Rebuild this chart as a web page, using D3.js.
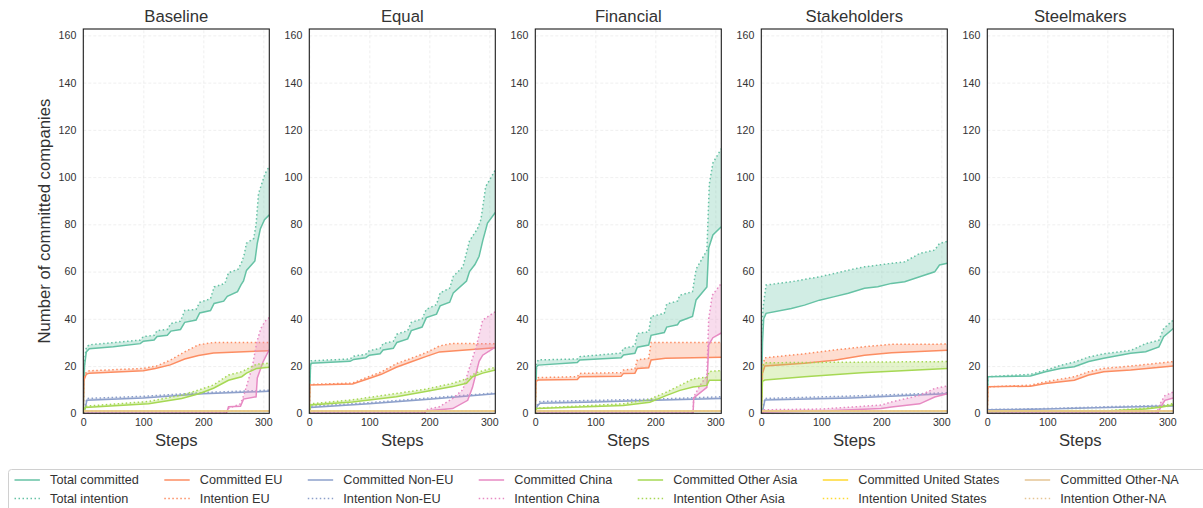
<!DOCTYPE html>
<html>
<head>
<meta charset="utf-8">
<script src="https://cdn.jsdelivr.net/npm/d3@7"></script>
<style>
  body { margin: 0; background: #fff; }
  text { font-family: "Liberation Sans", Arial, sans-serif; }
</style>
</head>
<body>
<svg id="chart" width="1203" height="508"></svg>
<script>
// ---- data ----
const scenarios = ["Baseline", "Equal", "Financial", "Stakeholders", "Steelmakers"];
const groups = ["Total", "EU", "Non-EU", "China", "Other Asia", "United States", "Other-NA"];
const committedLabels = ["Total committed", "Committed EU", "Committed Non-EU", "Committed China",
  "Committed Other Asia", "Committed United States", "Committed Other-NA"];
const intentionLabels = ["Total intention", "Intention EU", "Intention Non-EU", "Intention China",
  "Intention Other Asia", "Intention United States", "Intention Other-NA"];
const colors = ["#66c2a5", "#fc8d62", "#8da0cb", "#e78ac3", "#a6d854", "#ffd92f", "#e5c494"];
const xTicks = [0, 100, 200, 300];
const yTicks = [0, 20, 40, 60, 80, 100, 120, 140, 160];

// [step, companies] for committed / intention, per group
const usFlat = [[0, 1], [310, 1]];
const naFlat = [[0, 1], [310, 1]];

const baseline = [
  [[[0,0],[2,20],[5,26],[10,27.3],[50,28.2],[95,29.5],[100,30.5],[118,31],[123,32.5],[140,33],[146,34.8],[162,35.5],[169,38.5],[188,39.5],[194,42.5],[212,43.5],[218,46.5],[234,47.5],[240,49.5],[257,51.5],[263,54.5],[267,56],[272,60.5],[286,64.5],[290,72],[295,78],[302,82],[310,84]],
   [[0,0],[2,22],[5,28],[10,29],[95,31],[100,32.5],[118,33],[123,35],[140,35.5],[146,38],[162,39],[169,43.5],[188,44],[194,47],[212,48.5],[218,53.5],[236,55],[242,59.5],[258,61],[264,64],[268,67],[272,72],[284,74],[288,80],[292,93],[303,101.5],[310,104.5]]],
  [[[0,0],[1,14],[5,16.5],[10,17],[100,18],[120,19],[145,20.5],[169,23],[192,24.5],[217,25.5],[310,26.5]],
   [[0,0],[1,15],[5,17.5],[10,18],[100,19],[122,20],[145,22.5],[169,26],[192,29],[217,30],[310,30]]],
  [[[0,0],[3,2],[6,5.5],[100,6.5],[200,8.3],[310,9.3]],
   [[0,0],[3,3],[6,6.3],[100,7.2],[200,8.8],[310,9.8]]],
  [[[0,0],[238,0],[240,1],[242,2.8],[262,3],[267,6],[288,7],[290,15],[300,22],[310,27]],
   [[0,0],[238,0],[241,2],[262,4],[268,8],[275,14],[282,20],[289,30],[296,36],[303,39],[310,40.5]]],
  [[[0,0],[3,2.5],[109,4],[164,6.3],[194,8.4],[217,10.6],[242,14],[264,15.5],[272,17],[289,19],[310,19.5]],
   [[0,0],[3,3],[109,5],[164,7.7],[194,10],[217,12],[242,16.2],[264,17.6],[289,20.8],[310,21.2]]],
  [usFlat, usFlat],
  [naFlat, naFlat]
];

const equal = [
  [[[0,0],[2,20],[3,21.2],[68,22],[74,22.8],[94,23.5],[100,24.6],[118,25.2],[123,26.8],[140,27.5],[146,30],[164,31.5],[170,35],[188,36.5],[195,40.5],[212,42],[218,45.5],[234,47],[240,51],[262,56],[267,60],[276,63],[283,66.5],[289,73],[297,80.5],[310,85]],
   [[0,0],[2,21],[3,22.2],[68,23],[74,24.2],[94,25],[100,26.5],[118,27.5],[123,29.5],[140,30.5],[146,33.5],[164,35],[170,38.5],[188,40],[195,44],[212,46],[218,51],[234,53],[240,58],[256,62],[267,73],[280,78],[286,82],[294,96],[310,103]]],
  [[[0,0],[1,12],[72,12.4],[97,14.5],[120,16.5],[145,19.5],[169,21.7],[194,24],[217,26],[310,27.8]],
   [[0,0],[1,12.2],[72,12.8],[97,15.3],[120,17.5],[145,21],[169,23.2],[194,25.6],[217,28.5],[239,29.6],[310,29.4]]],
  [[[0,0],[2,2.5],[100,4],[200,6],[310,8.3]],
   [[0,0],[2,3],[100,4.5],[200,6.5],[310,8.6]]],
  [[[0,0],[192,0],[194,1],[239,2],[264,5.5],[272,11],[283,22],[289,24.6],[310,28]],
   [[0,0],[192,0],[194,1.5],[217,2.8],[239,6.3],[256,10],[264,17],[278,28],[289,39.5],[310,43]]],
  [[[0,0],[2,3.5],[72,4.8],[145,7],[194,9.2],[239,11.3],[262,12.7],[272,15.5],[289,17],[310,18.3]],
   [[0,0],[2,4],[72,5.7],[145,8.4],[194,10.2],[239,12.7],[264,14.8],[278,17.2],[310,19.5]]],
  [usFlat, usFlat],
  [naFlat, naFlat]
];

const financial = [
  [[[0,0],[2,19.7],[5,20.4],[70,21.5],[74,22.6],[143,23.5],[147,24.7],[166,25.4],[170,28],[189,28.9],[193,33],[215,34.2],[219,36.5],[237,37.5],[241,39],[262,41],[268,48],[286,53.5],[289,70],[296,75.5],[310,79]],
   [[0,0],[2,21],[5,22.6],[70,23],[74,24],[143,25.5],[147,27.5],[166,28.5],[170,33.8],[189,34.5],[193,41],[215,42.3],[219,46.3],[237,47.5],[241,50],[262,51.5],[268,61],[286,69],[290,97],[296,106],[310,112]]],
  [[[0,0],[1,13.5],[5,14.1],[70,14.3],[74,15.5],[143,15.7],[147,16.9],[166,17],[170,19],[189,19.3],[193,22.6],[217,23.3],[310,23.7]],
   [[0,0],[1,14],[5,15.1],[70,15.5],[74,16.9],[143,17.2],[147,18.3],[166,18.8],[170,22.6],[189,23.3],[193,30],[310,30]]],
  [[[0,0],[3,3],[8,4.3],[100,4.8],[200,5.5],[310,6.3]],
   [[0,0],[3,3.5],[8,5],[100,5.5],[200,6],[310,7]]],
  [[[0,0],[263,0],[264,6.5],[286,11],[289,29],[296,32],[310,34]],
   [[0,0],[263,0],[264,7],[275,12],[286,16],[289,40],[295,50],[310,55]]],
  [[[0,0],[2,2],[147,3.3],[191,4.7],[219,7.6],[241,9.7],[263,11.1],[286,11.8],[290,14],[310,14]],
   [[0,0],[2,2.2],[147,4],[191,6],[219,9],[241,11.8],[263,14.6],[286,15.3],[290,17.7],[310,18.1]]],
  [usFlat, usFlat],
  [naFlat, naFlat]
];

const stakeholders = [
  [[[0,0],[2,30],[4,40],[8,42.3],[50,44.4],[72,45.8],[97,47.9],[122,49.4],[145,50.8],[172,52.9],[194,53.6],[217,55],[239,55.7],[264,57.8],[289,59.9],[297,62.8],[310,63.5]],
   [[0,0],[1,35],[3,45],[8,54.3],[50,55.7],[97,57.8],[122,59.2],[145,60.6],[172,62],[217,63.5],[239,64.1],[264,67.7],[289,69.1],[297,71.9],[310,72.8]]],
  [[[0,0],[2,17],[6,20],[72,21.2],[122,22.5],[172,24.6],[217,25.6],[310,26.7]],
   [[0,0],[2,20],[6,23.5],[72,25.2],[122,26.8],[172,28.2],[217,29.2],[310,29.3]]],
  [[[0,0],[3,2],[6,5.6],[150,6.5],[310,8.3]],
   [[0,0],[3,2.5],[6,6.3],[150,7.3],[310,8.7]]],
  [[[0,0],[5,0.6],[100,1],[200,2],[217,2.7],[264,4],[289,6.9],[310,8.3]],
   [[0,0],[5,1.5],[100,1.8],[200,3.5],[217,4.8],[264,7.6],[289,10.5],[310,11.6]]],
  [[[0,0],[2,13.5],[6,14.1],[72,15.5],[167,17.2],[310,19]],
   [[0,0],[2,20],[6,21.4],[310,21.9]]],
  [usFlat, usFlat],
  [naFlat, naFlat]
];

const steelmakers = [
  [[[0,0],[1,15.5],[72,15.8],[97,17.6],[122,19],[145,19.7],[169,21.9],[194,23.3],[239,25.4],[264,26.1],[286,28.1],[294,32.4],[310,35.9]],
   [[0,0],[1,15.5],[72,16.5],[97,18.2],[122,20.3],[145,21.7],[169,23.8],[194,25.2],[239,26.6],[264,29.5],[286,30.9],[294,35.9],[310,39.5]]],
  [[[0,0],[1,11.2],[72,11.5],[97,12.6],[145,14],[169,16.2],[194,17.6],[239,18.3],[310,20]],
   [[0,0],[1,11.2],[72,11.9],[97,13.3],[145,15.5],[169,17.6],[194,19],[239,20],[310,21.9]]],
  [[[0,1.5],[97,1.8],[200,2.5],[310,3.1]],
   [[0,1.6],[97,2],[200,2.8],[310,3.5]]],
  [[[0,0],[284,0],[290,3],[296,5.5],[310,6.5]],
   [[0,0],[282,0],[288,4],[296,7.5],[310,9]]],
  [[[0,0.8],[200,1],[264,1.8],[289,2.6],[310,3.5]],
   [[0,1],[200,1.2],[264,2.2],[289,3],[310,4.2]]],
  [usFlat, usFlat],
  [naFlat, naFlat]
];

const panels = [baseline, equal, financial, stakeholders, steelmakers];

// ---- layout ----
const svg = d3.select("#chart");
const ink = "#333";
const plotW = 186, plotTop = 29, plotBottom = 413.3, firstLeft = 83.3, panelStep = 226;

scenarios.forEach((name, i) => {
  const x0 = firstLeft + i * panelStep;
  const x = d3.scaleLinear().domain([0, 310]).range([x0, x0 + plotW]);
  const y = d3.scaleLinear().domain([0, 162.7]).range([plotBottom, plotTop]);
  const g = svg.append("g");

  // faint dashed grid
  g.append("g")
    .attr("transform", `translate(0,${plotBottom})`)
    .call(d3.axisBottom(x).tickValues(xTicks).tickSize(-(plotBottom - plotTop)).tickFormat(""))
    .call(a => a.select(".domain").remove())
    .selectAll("line").attr("stroke", "#ebebeb").attr("stroke-dasharray", "3,2").attr("stroke-width", 0.8);
  g.append("g")
    .attr("transform", `translate(${x0},0)`)
    .call(d3.axisLeft(y).tickValues(yTicks).tickSize(-plotW).tickFormat(""))
    .call(a => a.select(".domain").remove())
    .selectAll("line").attr("stroke", "#ebebeb").attr("stroke-dasharray", "3,2").attr("stroke-width", 0.8);

  // tick labels
  g.append("g")
    .attr("transform", `translate(0,${plotBottom})`)
    .call(d3.axisBottom(x).tickValues(xTicks).tickSize(0).tickPadding(5))
    .call(a => a.select(".domain").remove())
    .selectAll("text").attr("font-size", 10.6).attr("fill", ink)
    .style("font-family", '"Liberation Sans", Arial, sans-serif');
  g.append("g")
    .attr("transform", `translate(${x0},0)`)
    .call(d3.axisLeft(y).tickValues(yTicks).tickSize(0).tickPadding(7))
    .call(a => a.select(".domain").remove())
    .selectAll("text").attr("font-size", 10.6).attr("fill", ink)
    .style("font-family", '"Liberation Sans", Arial, sans-serif');

  // series
  svg.append("clipPath").attr("id", "clip" + i)
    .append("rect").attr("x", x0).attr("y", plotTop).attr("width", plotW).attr("height", plotBottom - plotTop);
  const plot = g.append("g").attr("clip-path", `url(#clip${i})`);
  const line = d3.line().x(d => x(d[0])).y(d => y(d[1]));

  panels[i].forEach(([committed, intention], k) => {
    plot.append("path")
      .attr("d", line(committed.concat(intention.slice().reverse())) + "Z")
      .attr("fill", colors[k]).attr("fill-opacity", 0.3).attr("stroke", "none");
    plot.append("path")
      .attr("d", line(committed))
      .attr("fill", "none").attr("stroke", colors[k]).attr("stroke-width", 1.5);
    plot.append("path")
      .attr("d", line(intention))
      .attr("fill", "none").attr("stroke", colors[k]).attr("stroke-width", 1.5)
      .attr("stroke-dasharray", "1.5,2.5");
  });

  // frame
  g.append("rect")
    .attr("x", x0).attr("y", plotTop).attr("width", plotW).attr("height", plotBottom - plotTop)
    .attr("fill", "none").attr("stroke", "#1a1a1a").attr("stroke-width", 1.1);

  // title and x label
  g.append("text").attr("x", x0 + plotW / 2).attr("y", 22)
    .attr("text-anchor", "middle").attr("font-size", 16.7).attr("fill", ink).text(name);
  g.append("text").attr("x", x0 + plotW / 2).attr("y", 446)
    .attr("text-anchor", "middle").attr("font-size", 16.7).attr("fill", ink).text("Steps");
});

svg.append("text")
  .attr("transform", `translate(50,${(plotTop + plotBottom) / 2}) rotate(-90)`)
  .attr("text-anchor", "middle").attr("font-size", 16.7).attr("fill", ink)
  .text("Number of committed companies");

// ---- legend (matplotlib-like spacing in font-size units) ----
const legendFont = 12.7;
const legend = svg.append("g");
legend.append("rect")
  .attr("x", 8.5).attr("y", 469.5).attr("width", 1210).attr("height", 50).attr("rx", 3)
  .attr("fill", "#fff").attr("stroke", "#d0d0d0").attr("stroke-width", 1);

let colX = 14.5;
groups.forEach((grp, k) => {
  const col = legend.append("g");
  let maxW = 0;
  [[committedLabels[k], null, 480], [intentionLabels[k], "1.5,2.5", 498.5]].forEach(([label, dash, ly]) => {
    col.append("line")
      .attr("x1", colX).attr("x2", colX + 2 * legendFont).attr("y1", ly).attr("y2", ly)
      .attr("stroke", colors[k]).attr("stroke-width", 1.5)
      .attr("stroke-dasharray", dash);
    const t = col.append("text")
      .attr("x", colX + 2.8 * legendFont).attr("y", ly).attr("dy", "0.35em")
      .attr("font-size", legendFont).attr("fill", ink).text(label);
    maxW = Math.max(maxW, t.node().getComputedTextLength());
  });
  colX += 2.8 * legendFont + maxW + 2 * legendFont;
});
</script>
</body>
</html>
